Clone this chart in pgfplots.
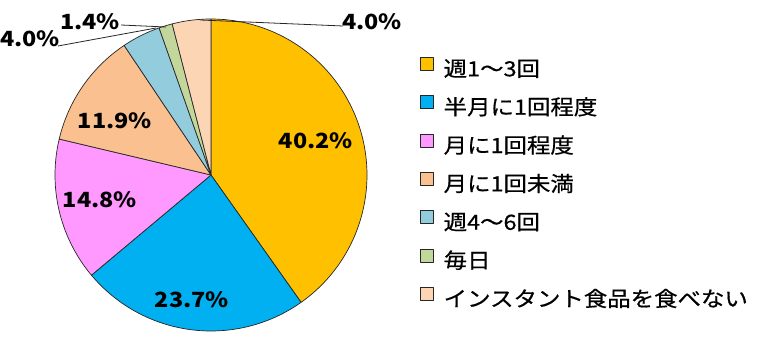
\documentclass[border=0pt]{standalone}
\usepackage{pgfplots}
\pgfplotsset{compat=1.18}
\usepackage{pgfplotstable}
\usepackage{fontspec}
\setmainfont{Noto Sans CJK JP}[FakeStretch=1.12]
\newfontfamily\legfont{Noto Sans CJK JP}[FakeStretch=1.12, FakeBold=0.6]
\definecolor{c1}{HTML}{FFC000}
\definecolor{c2}{HTML}{00B0F0}
\definecolor{c3}{HTML}{FF99FF}
\definecolor{c4}{HTML}{FAC090}
\definecolor{c5}{HTML}{93CDDD}
\definecolor{c6}{HTML}{C3D69B}
\definecolor{c7}{HTML}{FCD5B5}
\definecolor{edge}{HTML}{262626}
\pgfplotstableread{
value col
40.2 c1
23.7 c2
14.8 c3
11.9 c4
4.0 c5
1.4 c6
4.0 c7
}\piedata
\begin{document}
\begin{tikzpicture}
\begin{axis}[
  scale only axis, width=768bp, height=351bp,
  xmin=0, xmax=768, ymin=0, ymax=351,
  hide axis, clip=false, no markers,
  legend entries={週1～3回, 半月に1回程度, 月に1回程度, 月に1回未満, 週4～6回, 毎日, インスタント食品を食べない},
  legend image code/.code={\draw[#1] (0bp,0bp) rectangle (13bp,13bp);},
  legend cell align=left,
  legend style={at={(axis cs:420,294)}, anchor=north west, draw=none, fill=none,
    inner sep=0pt, outer sep=0pt, row sep=15bp,
    font=\legfont\fontsize{21}{21}\selectfont,
    nodes={inner sep=0pt, text height=16bp, text depth=4bp},
    /tikz/every odd column/.append style={column sep=10bp}},
]
\def\start{90}
\pgfplotsforeachungrouped \i in {0,...,6}{%
  \pgfplotstablegetelem{\i}{value}\of\piedata \let\v\pgfplotsretval
  \pgfplotstablegetelem{\i}{col}\of\piedata \let\c\pgfplotsretval
  \pgfmathsetmacro\endang{\start-3.6*\v}%
  \edef\temp{\noexpand\addplot[fill=\c, draw=edge, line width=0.7pt, line join=round,
     domain=\endang:\start, samples=90, variable=\noexpand\t]
     ({211+156*cos(\noexpand\t)},{176+156*sin(\noexpand\t)}) -- (axis cs:211,176) -- cycle;}%
  \temp
  \let\start\endang
}
\begin{scope}[font=\bfseries\fontsize{21}{21}\selectfont, text=black, inner sep=0pt]
\node at (axis cs:316,210) {40.2\%};
\node at (axis cs:192,51) {23.7\%};
\node at (axis cs:100,151) {14.8\%};
\node at (axis cs:115,230) {11.9\%};
\node[anchor=west] at (axis cs:0,312) {4.0\%};
\node at (axis cs:90,329) {1.4\%};
\node at (axis cs:372,329) {4.0\%};
\end{scope}
\draw[edge, line width=0.8pt] (axis cs:343,325) -- (axis cs:200,331);
\draw[edge, line width=0.8pt] (axis cs:121,326) -- (axis cs:166,324);
\draw[edge, line width=0.8pt] (axis cs:58,305) -- (axis cs:156,323);
\end{axis}
\pgfresetboundingbox
\path (current axis.south west) rectangle (current axis.north east);
\end{tikzpicture}
\end{document}
